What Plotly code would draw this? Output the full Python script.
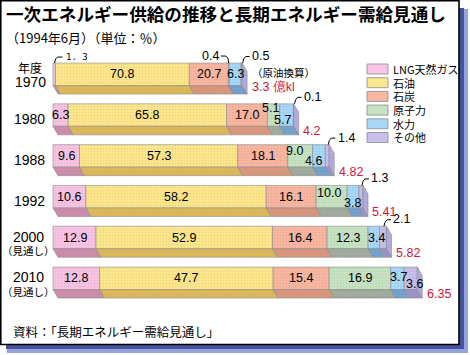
import plotly.graph_objects as go

# ---------------- data ----------------
years = ["1970", "1980", "1988", "1992", "2000", "2010"]
year_notes = ["年度", "", "", "", "（見通し）", "（見通し）"]
sources = ["LNG天然ガス", "石油", "石炭", "原子力", "水力", "その他"]
lng = [1.3, 6.3, 9.6, 10.6, 12.9, 12.8]
oil = [70.8, 65.8, 57.3, 58.2, 52.9, 47.7]
coal = [20.7, 17.0, 18.1, 16.1, 16.4, 15.4]
nuclear = [0.4, 5.1, 9.0, 10.0, 12.3, 16.9]
hydro = [6.3, 5.7, 4.6, 3.8, 3.4, 3.7]
other = [0.5, 0.1, 1.4, 1.3, 2.1, 3.6]
total_supply = [3.3, 4.2, 4.82, 5.41, 5.82, 6.35]          # 億kl（原油換算）
total_labels = ["3.3 億kl", "4.2", "4.82", "5.41", "5.82", "6.35"]
title_text = "一次エネルギー供給の推移と長期エネルギー需給見通し"
subtitle_text = "（1994年6月）（単位：％）"
unit_note = "（原油換算）"
source_text = "資料：「長期エネルギー需給見通し」"

shares = [lng, oil, coal, nuclear, hydro, other]

# ---------------- style ----------------
W, H = 470, 355
LEFT_PX = 53.0        # pixel of x = 0
PXX = 57.3            # pixels per 億kl
ROW0_PX = 74.3        # pixel centre of first bar front
PXY = 40.8            # pixels per row
BAR_H = 22.5 / PXY
DX = 5.0 / PXX
DY = 8.5 / PXY

front_cols = ["#f8c4e4", "#fbe78f", "#f8b7a2", "#c6e2c2", "#a8d8f7", "#c8c0ea"]
dot_cols = ["#e09cc4", "#e8c060", "#e09880", "#a8c8a4", "#88b8e0", "#a8a0d0"]
dark_cols = ["#c88aa6", "#d8b65a", "#d6967c", "#9fa79d", "#6f9ecb", "#9a90c4"]
side_col = "#b2aada"
red = "#d4143c"
edge = "#8a8a8a"
num_font = "Liberation Sans, Arial, sans-serif"
cjk_font = "Noto Sans CJK JP, sans-serif"
narrow_font = "Liberation Sans Narrow, Arial Narrow, Liberation Sans, sans-serif"

# label placement per (row, segment): ("in", dx_px, dy_px) or ("out", kind)
label_cfg = {
    (0, 0): ("out", "left_hook"), (0, 3): ("out", "down_hook"), (0, 5): ("out", "end_hook"),
    (1, 3): ("in", -3, -7), (1, 4): ("in", -4, 5), (1, 5): ("out", "end_hook"),
    (2, 3): ("in", -6, -5), (2, 4): ("in", -5, 5), (2, 5): ("out", "end_hook"),
    (3, 3): ("in", -3, -4), (3, 4): ("in", -1, 6), (3, 5): ("out", "end_hook"),
    (4, 4): ("in", 3, 0), (4, 5): ("out", "end_hook"),
    (5, 4): ("in", 1, -1), (5, 5): ("in", 4, 6),
}

fig = go.Figure()
n = len(years)

# segment geometry from data (x in 億kl)
starts, ends = [], []
for i in range(n):
    cum = 0.0
    s_row, e_row = [], []
    for k in range(len(sources)):
        s_row.append(total_supply[i] * cum / 100.0)
        cum += shares[k][i]
        e_row.append(total_supply[i] * cum / 100.0)
    starts.append(s_row)
    ends.append(e_row)

# bottom faces
for k in range(len(sources)):
    xs, ys = [], []
    for i in range(n):
        yb = i + BAR_H / 2
        x0, x1 = starts[i][k], ends[i][k]
        xs += [x0, x1, x1 + DX, x0 + DX, x0, None]
        ys += [yb, yb, yb + DY, yb + DY, yb, None]
    fig.add_trace(go.Scatter(
        x=xs, y=ys, mode="lines", fill="toself", fillcolor=dark_cols[k],
        fillpattern=dict(shape=".", fgcolor=dot_cols[k], bgcolor=dark_cols[k], size=3, solidity=0.25),
        line=dict(color=edge, width=0.6), hoverinfo="skip", showlegend=False))

# right side faces
xs, ys = [], []
for i in range(n):
    xe = ends[i][-1]
    yt, yb = i - BAR_H / 2, i + BAR_H / 2
    xs += [xe, xe + DX, xe + DX, xe, xe, None]
    ys += [yt, yt + DY, yb + DY, yb, yt, None]
fig.add_trace(go.Scatter(
    x=xs, y=ys, mode="lines", fill="toself", fillcolor=side_col,
    fillpattern=dict(shape=".", fgcolor=dot_cols[5], bgcolor=side_col, size=3, solidity=0.25),
    line=dict(color=edge, width=0.6), hoverinfo="skip", showlegend=False))

# front faces
for k in range(len(sources)):
    fig.add_trace(go.Bar(
        orientation="h", y=list(range(n)),
        x=[ends[i][k] - starts[i][k] for i in range(n)],
        base=[starts[i][k] for i in range(n)],
        width=BAR_H, name=sources[k],
        marker=dict(color=front_cols[k], line=dict(color=edge, width=0.6),
                    pattern=dict(shape=".", fgcolor=dot_cols[k], bgcolor=front_cols[k],
                                 size=3, solidity=0.25)),
        hoverinfo="skip", showlegend=False))

ann = []
lead_x, lead_y = [], []


def px(dx):
    return dx / PXX


def py(dy):
    return dy / PXY


for i in range(n):
    yt = i - BAR_H / 2
    yb = i + BAR_H / 2
    for k in range(len(sources)):
        v = shares[k][i]
        txt = f"{v:.1f}"
        cfg = label_cfg.get((i, k), ("in", 0, 0))
        x0, x1 = starts[i][k], ends[i][k]
        xc = (x0 + x1) / 2
        if cfg[0] == "in":
            ann.append(dict(x=xc + px(cfg[1]), y=i + py(cfg[2]), xref="x", yref="y", text=txt,
                            showarrow=False, font=dict(family=num_font, size=12.5, color="black"),
                            xanchor="center", yanchor="middle"))
        else:
            kind = cfg[1]
            if kind == "left_hook":
                xa = x0 + px(1.5)
                lead_x += [xa, xa + px(1), xa + px(3), xa + px(8), None]
                lead_y += [yt, yt - py(4), yt - py(6), yt - py(6), None]
                ann.append(dict(x=xa + px(9), y=yt - py(6.5), xref="x", yref="y", text="1. 3" if txt == "1.3" else txt,
                                showarrow=False, font=dict(family="DejaVu Sans Mono, monospace", size=9, color="black"),
                                xanchor="left", yanchor="middle"))
            elif kind == "down_hook":
                xa = xc
                lead_x += [xa, xa - px(1), xa - px(3), xa - px(8), None]
                lead_y += [yt, yt - py(5), yt - py(7), yt - py(7), None]
                ann.append(dict(x=xa - px(8), y=yt - py(7.5), xref="x", yref="y", text=txt,
                                showarrow=False, font=dict(family=num_font, size=12.5, color="black"),
                                xanchor="right", yanchor="middle"))
            else:  # end_hook
                xa = xc + px(1)
                lead_x += [xa, xa + px(1), xa + px(3), xa + px(7), None]
                lead_y += [yt, yt - py(4), yt - py(6.5), yt - py(6.5), None]
                ann.append(dict(x=xa + px(7.5), y=yt - py(7), xref="x", yref="y", text=txt,
                                showarrow=False, font=dict(family=num_font, size=12.5, color="black"),
                                xanchor="left", yanchor="middle"))
    # total supply (red)
    xe = ends[i][-1]
    ylab = yb + py(4.5) if i > 0 else yb + py(1.5)
    ann.append(dict(x=xe + px(7.5), y=ylab, xref="x", yref="y", text=total_labels[i],
                    showarrow=False, font=dict(family=num_font, size=12.5, color=red),
                    xanchor="left", yanchor="middle"))
    if i == 0:
        ann.append(dict(x=xe + px(7.5), y=i - py(2), xref="x", yref="y", text=unit_note,
                        showarrow=False, font=dict(family=cjk_font, size=10.5, color="black"),
                        xanchor="left", yanchor="middle"))
    # year labels
    note = year_notes[i]
    if note == "":
        ann.append(dict(x=px(29 - LEFT_PX), y=i + py(4), xref="x", yref="y", text=years[i],
                        showarrow=False, font=dict(family=narrow_font, size=14, color="black"),
                        xanchor="center", yanchor="middle"))
    elif i == 0:
        ann.append(dict(x=px(30 - LEFT_PX), y=i - py(6.5), xref="x", yref="y", text=note,
                        showarrow=False, font=dict(family=cjk_font, size=12, color="black"),
                        xanchor="center", yanchor="middle"))
        ann.append(dict(x=px(30 - LEFT_PX), y=i + py(7.7), xref="x", yref="y", text=years[i],
                        showarrow=False, font=dict(family=narrow_font, size=14, color="black"),
                        xanchor="center", yanchor="middle"))
    else:
        ann.append(dict(x=px(28 - LEFT_PX), y=i - py(1), xref="x", yref="y", text=years[i],
                        showarrow=False, font=dict(family=narrow_font, size=14, color="black"),
                        xanchor="center", yanchor="middle"))
        ann.append(dict(x=px(28 - LEFT_PX), y=i + py(13), xref="x", yref="y", text=note,
                        showarrow=False, font=dict(family=cjk_font, size=10.5, color="black"),
                        xanchor="center", yanchor="middle"))

fig.add_trace(go.Scatter(x=lead_x, y=lead_y, mode="lines", line=dict(color="black", width=1),
                         hoverinfo="skip", showlegend=False))


def X(p):
    return p / W


def Y(p):
    return 1 - p / H


shapes = []
# drop shadow
shapes.append(dict(type="rect", xref="paper", yref="paper", x0=X(459), x1=X(464), y0=Y(349), y1=Y(8),
                   fillcolor="#44549e", line=dict(width=0), layer="below"))
shapes.append(dict(type="rect", xref="paper", yref="paper", x0=X(464), x1=X(468), y0=Y(353), y1=Y(9),
                   fillcolor="#95a5dc", line=dict(width=0), layer="below"))
shapes.append(dict(type="rect", xref="paper", yref="paper", x0=X(6), x1=X(464), y0=Y(349), y1=Y(344.5),
                   fillcolor="#44549e", line=dict(width=0), layer="below"))
shapes.append(dict(type="rect", xref="paper", yref="paper", x0=X(7), x1=X(468), y0=Y(353), y1=Y(349),
                   fillcolor="#95a5dc", line=dict(width=0), layer="below"))
# panel border
shapes.append(dict(type="rect", xref="paper", yref="paper", x0=X(0.8), x1=X(459), y0=Y(344.5), y1=Y(0.8),
                   fillcolor="rgba(0,0,0,0)", line=dict(color="black", width=1.6), layer="above"))

# legend (manual)
for k, name in enumerate(sources):
    yc = 69 + 13.7 * k
    shapes.append(dict(type="rect", xref="paper", yref="paper", x0=X(367), x1=X(388),
                       y0=Y(yc + 5), y1=Y(yc - 5), fillcolor=front_cols[k],
                       line=dict(color=edge, width=0.8)))
    ann.append(dict(x=X(391), y=Y(yc), xref="paper", yref="paper", text=name, showarrow=False,
                    font=dict(family=cjk_font, size=11, color="black"), xanchor="left", yanchor="middle"))

# titles
ann.append(dict(x=X(4), y=Y(14), xref="paper", yref="paper", text=f"<b>{title_text}</b>", showarrow=False,
                font=dict(family=cjk_font, size=17.6, color="black"), xanchor="left", yanchor="middle"))
ann.append(dict(x=X(4), y=Y(38), xref="paper", yref="paper", text=subtitle_text, showarrow=False,
                font=dict(family=cjk_font, size=13, color="black"), xanchor="left", yanchor="middle"))
ann.append(dict(x=X(11), y=Y(331), xref="paper", yref="paper", text=source_text, showarrow=False,
                font=dict(family=cjk_font, size=12.5, color="black"), xanchor="left", yanchor="middle"))

fig.update_layout(
    width=W, height=H, margin=dict(l=0, r=0, t=0, b=0, pad=0, autoexpand=False),
    paper_bgcolor="white", plot_bgcolor="rgba(0,0,0,0)",
    barmode="overlay", showlegend=False,
    xaxis=dict(range=[-LEFT_PX / PXX, (W - LEFT_PX) / PXX], visible=False, fixedrange=True),
    yaxis=dict(range=[(H - ROW0_PX) / PXY, -ROW0_PX / PXY], visible=False, fixedrange=True),
    shapes=shapes, annotations=ann,
)

fig.write_html("out.html", config={"displayModeBar": False},
               post_script="document.body.style.margin='0';document.body.style.overflow='hidden';")
